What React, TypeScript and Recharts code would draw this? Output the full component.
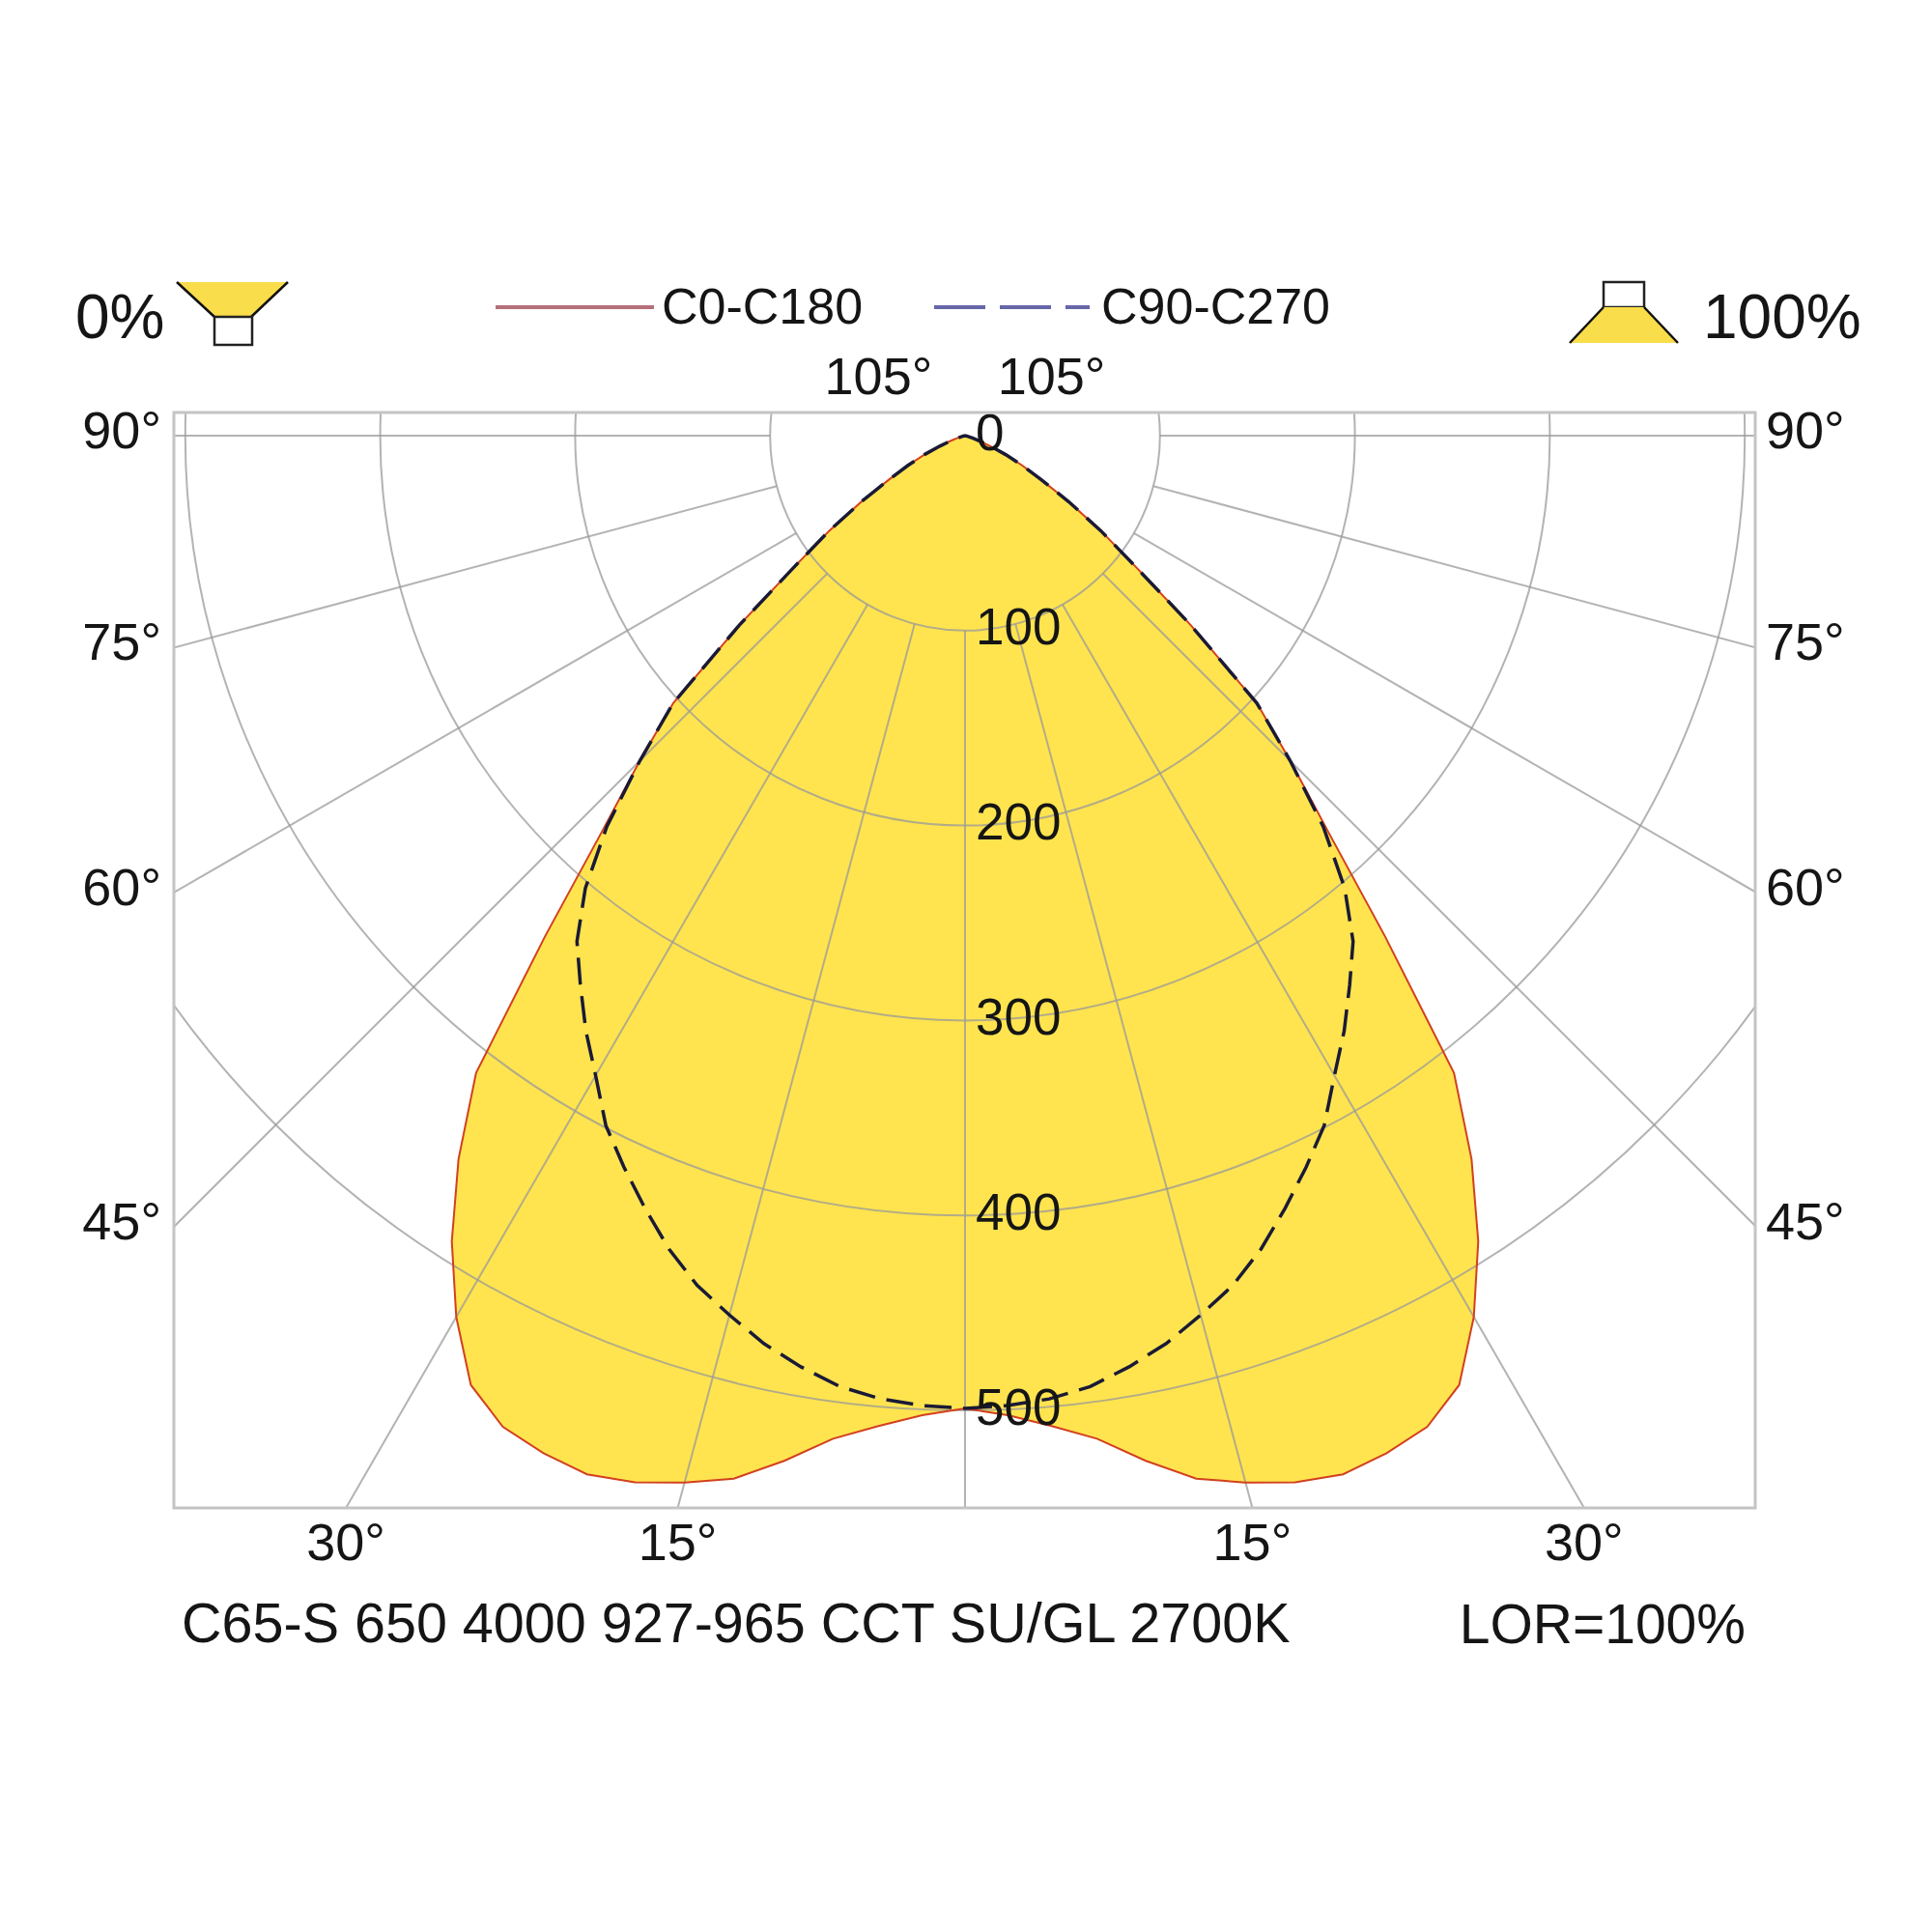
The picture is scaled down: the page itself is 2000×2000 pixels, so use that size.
import React from 'react';
import { RadarChart, Radar, PolarGrid, PolarAngleAxis, PolarRadiusAxis } from 'recharts';

// gamma (deg from nadir) for one half of the curve, both halves are the same
const gammas = [
  0, 2.5, 5, 7.5, 10, 12.5, 15, 17.5, 20, 22.5, 25, 27.5, 30, 32.5, 35, 37.5,
  40, 42.5, 45, 47.5, 50, 52.5, 55, 57.5, 60, 62.5, 65, 67.5, 70, 72.5, 75, 77.5, 80,
];
// cd/klm
const c0c180 = [
  499, 503, 510, 519, 534, 548, 556, 563, 567, 565, 561, 549, 522, 490, 453, 412,
  335, 276, 236, 203, 151, 110, 85, 63, 45, 33, 23, 14, 8, 4, 2, 1, 0,
];
const c90c270 = [
  499, 498, 496, 492, 485, 477, 467, 457, 444, 429, 414, 399, 379, 362, 344, 327,
  303, 272, 236, 203, 151, 110, 85, 63, 45, 33, 23, 14, 8, 4, 2, 1, 0,
];

const radiusTicks = [0, 100, 200, 300, 400, 500];
const gridAngles = Array.from({ length: 24 }, (_, i) => i * 15);
const sideLabels = [90, 75, 60, 45];
const bottomLabels = [30, 15];
const topLabel = 105;
const seriesNames = ['C0-C180', 'C90-C270'];
const titleText = 'C65-S 650 4000 927-965 CCT SU/GL 2700K';
const lorText = 'LOR=100%';

// right half: angle = gamma, left half: angle = 360 - gamma
const table = [
  ...gammas.map((g, i) => ({ angle: g, c0: c0c180[i], c90: c90c270[i] })),
  ...gammas
    .map((g, i) => ({ angle: 360 - g, c0: c0c180[i], c90: c90c270[i] }))
    .slice(1)
    .reverse(),
];

const FONT = '"Liberation Sans", Arial, Helvetica, sans-serif';
const FRAME = { left: 180, top: 427, width: 1637, height: 1134 };
const CX = 819;
const CY = 24;
const R_MAX = 700;
const OUTER = 1412.6; // 201.8 px per 100 cd
const R100 = OUTER / 7;
const LABEL_PAD = 80; // extra room above the frame for the "0" label

const rad = (d: number) => (d * Math.PI) / 180;

const chartProps = {
  width: FRAME.width,
  height: FRAME.height,
  data: table,
  cx: CX,
  cy: CY,
  startAngle: -90,
  endAngle: 270,
  outerRadius: OUTER,
  margin: { top: 0, right: 0, bottom: 0, left: 0 },
};

const hiddenAngleAxis = (
  <PolarAngleAxis
    dataKey="angle"
    type="number"
    domain={[0, 360]}
    ticks={gridAngles}
    tick={false}
    tickLine={false}
    axisLine={false}
  />
);

const RadiusTick = (props: any) => {
  const { x, y, payload } = props;
  return (
    <text x={x + 11} y={y - 4} dominantBaseline="central" fontSize={53} fontFamily={FONT} fill="#151515">
      {payload.value}
    </text>
  );
};

const layer: React.CSSProperties = { position: 'absolute', left: 0, top: 0 };

export default function App() {
  const absCx = FRAME.left + CX;
  const absCy = FRAME.top + CY;
  const textStyle = { fontFamily: FONT, fill: '#151515' };

  return (
    <div style={{ position: 'absolute', left: 0, top: 0, width: 2000, height: 2000, background: '#fff' }}>
      <div
        style={{
          position: 'absolute',
          left: FRAME.left,
          top: FRAME.top,
          width: FRAME.width,
          height: FRAME.height,
          overflow: 'hidden',
        }}
      >
        {/* yellow fill */}
        <div style={layer}>
          <RadarChart {...chartProps}>
            {hiddenAngleAxis}
            <PolarRadiusAxis domain={[0, R_MAX]} tick={false} tickLine={false} axisLine={false} />
            <Radar dataKey="c0" stroke="none" fill="#FFE44F" fillOpacity={1} isAnimationActive={false} />
          </RadarChart>
        </div>
        {/* radial lines, starting at the 100 circle */}
        <div style={layer}>
          <RadarChart {...chartProps} innerRadius={R100}>
            {hiddenAngleAxis}
            <PolarRadiusAxis domain={[0, 1]} ticks={[0]} tick={false} tickLine={false} axisLine={false} />
            <PolarGrid gridType="circle" polarRadius={[]} stroke="#9a9a9a" strokeOpacity={0.75} strokeWidth={2} />
          </RadarChart>
        </div>
        {/* circles and curves */}
        <div style={layer}>
          <RadarChart {...chartProps}>
            <PolarGrid gridType="circle" radialLines={false} stroke="#9a9a9a" strokeOpacity={0.75} strokeWidth={2} />
            {hiddenAngleAxis}
            <PolarRadiusAxis
              angle={-90}
              domain={[0, R_MAX]}
              ticks={radiusTicks}
              tick={false}
              tickLine={false}
              axisLine={false}
            />
            <Radar
              name={seriesNames[0]}
              dataKey="c0"
              stroke="#D2401F"
              strokeWidth={2}
              fill="none"
              isAnimationActive={false}
            />
            <Radar
              name={seriesNames[1]}
              dataKey="c90"
              stroke="#1A1A36"
              strokeWidth={3.5}
              strokeDasharray="28 12"
              fill="none"
              isAnimationActive={false}
            />
          </RadarChart>
        </div>
      </div>

      {/* radius labels, not clipped by the frame */}
      <div style={{ position: 'absolute', left: FRAME.left, top: FRAME.top - LABEL_PAD }}>
        <RadarChart {...chartProps} height={FRAME.height + LABEL_PAD} cy={CY + LABEL_PAD}>
          {hiddenAngleAxis}
          <PolarRadiusAxis
            angle={-90}
            domain={[0, R_MAX]}
            ticks={radiusTicks}
            tick={<RadiusTick />}
            tickLine={false}
            axisLine={false}
          />
          <Radar dataKey="c0" stroke="none" fill="none" isAnimationActive={false} />
        </RadarChart>
      </div>

      <svg width={2000} height={2000} style={{ ...layer, pointerEvents: 'none' }}>
        <rect
          x={FRAME.left}
          y={FRAME.top}
          width={FRAME.width}
          height={FRAME.height}
          fill="none"
          stroke="#c4c4c4"
          strokeWidth={3}
        />

        {/* legend */}
        <text x={78} y={350} fontSize={64} {...textStyle}>0%</text>
        <polygon points="183,292 298,292 260,328 222,328" fill="#F9DD4A" />
        <line x1={183} y1={292} x2={222} y2={328} stroke="#111" strokeWidth={2.5} />
        <line x1={298} y1={292} x2={260} y2={328} stroke="#111" strokeWidth={2.5} />
        <rect x={222} y={328} width={39} height={29} fill="#fff" stroke="#222" strokeWidth={2.5} />

        <line x1={513} y1={318} x2={677} y2={318} stroke="#B5707A" strokeWidth={4} />
        <text x={685} y={335} fontSize={52} {...textStyle}>{seriesNames[0]}</text>
        <line x1={967} y1={318} x2={1128} y2={318} stroke="#6666A8" strokeWidth={4} strokeDasharray="53 15" />
        <text x={1140} y={335} fontSize={52} {...textStyle}>{seriesNames[1]}</text>

        <rect x={1660} y={292} width={42} height={26} fill="#fff" stroke="#222" strokeWidth={2.5} />
        <polygon points="1660,318 1702,318 1737,355 1625,355" fill="#F9DD4A" />
        <line x1={1660} y1={318} x2={1625} y2={355} stroke="#111" strokeWidth={2.5} />
        <line x1={1702} y1={318} x2={1737} y2={355} stroke="#111" strokeWidth={2.5} />
        <text x={1763} y={350} fontSize={64} {...textStyle}>100%</text>

        {/* angle labels on the sides */}
        {sideLabels.map((g) => {
          const y = absCy + (CX * Math.cos(rad(g))) / Math.sin(rad(g));
          return (
            <React.Fragment key={`s${g}`}>
              <text x={FRAME.left - 13} y={y + 13} fontSize={54} textAnchor="end" {...textStyle}>{`${g}°`}</text>
              <text x={FRAME.left + FRAME.width + 11} y={y + 13} fontSize={54} {...textStyle}>{`${g}°`}</text>
            </React.Fragment>
          );
        })}
        {bottomLabels.map((g) => {
          const dx = (FRAME.height - CY) * Math.tan(rad(g));
          return (
            <React.Fragment key={`b${g}`}>
              <text x={absCx - dx} y={1615} fontSize={54} textAnchor="middle" {...textStyle}>{`${g}°`}</text>
              <text x={absCx + dx} y={1615} fontSize={54} textAnchor="middle" {...textStyle}>{`${g}°`}</text>
            </React.Fragment>
          );
        })}
        {[-1, 1].map((s) => (
          <text
            key={`t${s}`}
            x={absCx + (s * CY) / Math.tan(rad(topLabel - 90))}
            y={408}
            fontSize={54}
            textAnchor="middle"
            {...textStyle}
          >{`${topLabel}°`}</text>
        ))}

        <text x={188} y={1700} fontSize={57.5} {...textStyle}>{titleText}</text>
        <text x={1807} y={1701} fontSize={57} textAnchor="end" {...textStyle}>{lorText}</text>
      </svg>
    </div>
  );
}
